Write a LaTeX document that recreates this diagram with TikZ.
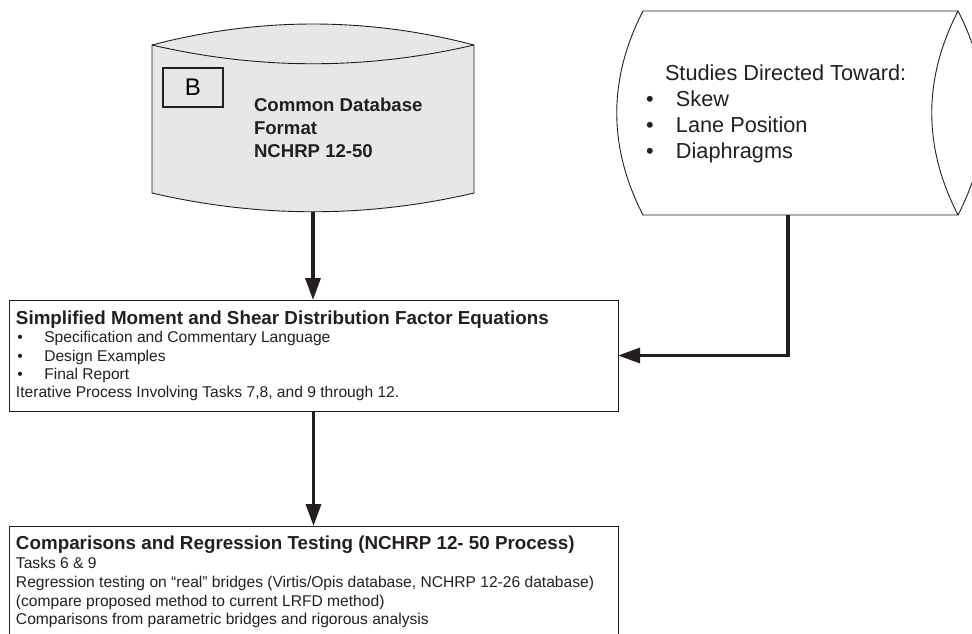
\documentclass[tikz,border=0pt]{standalone}
\usepackage{fontspec}
\setmainfont{Liberation Sans}
\usetikzlibrary{positioning, arrows.meta}

\definecolor{ink}{HTML}{231F20}
\definecolor{dbfill}{HTML}{E6E7E8}

\begin{document}
\begin{tikzpicture}[x=1pt, y=-1pt, >={Triangle[length=22pt,width=15pt]},
    outline/.style={draw=ink, line width=0.9pt},
    flow/.style={->, draw=ink, line width=3.3pt},
    shell/.style={inner sep=0pt, outer sep=0pt},
    box/.style={outline, shell, minimum width=609pt},
    boxtext/.style={shell, anchor=north west, align=left, text=ink, font=\fontsize{15.6}{18.2}\selectfont},
    tag/.style={draw=ink, line width=2pt, shell, minimum width=60pt, minimum height=39pt, font=\fontsize{24}{24}\selectfont}]
    \useasboundingbox (0,0) rectangle (972,633);

    % Database B: common format
    \node[shell, minimum width=322pt, minimum height=148pt] (db) at (313,119) {};
    \draw[outline, fill=dbfill] (db.north west) .. controls +(107,-28) and +(-107,-28) .. (db.north east)
        -- (db.south east) .. controls +(-107,25) and +(107,25) .. (db.south west) -- cycle;
    \draw[outline] (db.north west) .. controls +(107,25) and +(-107,25) .. (db.north east);
    \node[tag, below right=23pt and 11pt of db.north west] (dbtag) {B};
    \node[boxtext, font=\bfseries\fontsize{18.6}{23}\selectfont, below right=53pt and 102pt of db.north west] (dbtext)
        {Common Database\\Format\\NCHRP 12-50};

    % Stored data: studies
    \node[shell, minimum width=315pt, minimum height=204pt] (studies) at (800.5,113) {};
    \draw[outline, fill=white] (studies.north west) -- (studies.north east)
        .. controls +(-35,68) and +(-35,-68) .. (studies.south east)
        -- (studies.south west) .. controls +(-35,-68) and +(-35,68) .. (studies.north west) -- cycle;
    \draw[outline] (studies.north east) .. controls +(35,68) and +(35,-68) .. (studies.south east);
    \node[boxtext, font=\fontsize{21.7}{26}\selectfont, below right=54pt and 3pt of studies.north west] (studiestext)
        {\hspace*{19pt}Studies Directed Toward:\\
         \makebox[30pt][l]{\textbullet}Skew\\
         \makebox[30pt][l]{\textbullet}Lane Position\\
         \makebox[30pt][l]{\textbullet}Diaphragms};

    % Equations box
    \node[box, minimum height=111pt, anchor=north west] (simplified) at (9,300) {};
    \node[boxtext, below right=11pt and 7pt of simplified.north west] (simplifiedtext)
        {{\bfseries\fontsize{18.8}{18.2}\selectfont Simplified Moment and Shear Distribution Factor Equations}\\
         \makebox[28.3pt][l]{\hspace{1.5pt}\textbullet}Specification and Commentary Language\\
         \makebox[28.3pt][l]{\hspace{1.5pt}\textbullet}Design Examples\\
         \makebox[28.3pt][l]{\hspace{1.5pt}\textbullet}Final Report\\
         Iterative Process Involving Tasks 7,8, and 9 through 12.};

    % Testing box (runs off the page)
    \node[box, minimum height=130pt, below=115pt of simplified] (tests) {};
    \node[boxtext, font=\fontsize{15.6}{18.8}\selectfont, below right=10pt and 7pt of tests.north west] (teststext)
        {{\bfseries\fontsize{18.8}{18.8}\selectfont Comparisons and Regression Testing (NCHRP 12- 50 Process)}\\
         Tasks 6 \& 9\\
         Regression testing on “real” bridges (Virtis/Opis database, NCHRP 12-26 database)\\
         (compare proposed method to current LRFD method)\\
         Comparisons from parametric bridges and rigorous analysis};

    % Connectors
    \coordinate (dbfoot) at ([yshift=-19pt]db.south);
    \coordinate (studiesfoot) at ([xshift=-12.5pt]studies.south);
    \draw[flow] (dbfoot) -- (dbfoot |- simplified.north);
    \draw[flow] (studiesfoot) |- (simplified.east);
    \draw[flow] (simplified.south) -- (tests.north);
\end{tikzpicture}
\end{document}
